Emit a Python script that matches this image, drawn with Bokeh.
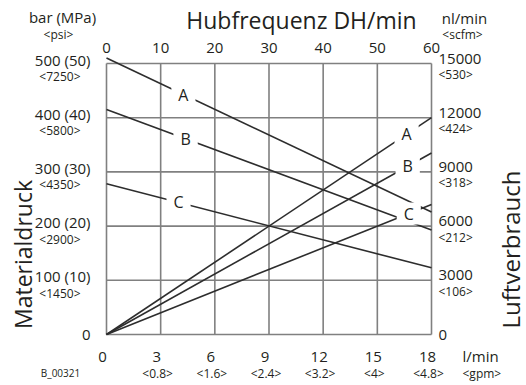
import numpy as np
from bokeh.plotting import figure
from bokeh.models import Range1d, ColumnDataSource
from bokeh.embed import file_html
from bokeh.resources import INLINE
from bokeh.core.properties import value

# ---------------- data ----------------
flow_ticks = [0, 3, 6, 9, 12, 15, 18]                      # l/min (bottom)
flow_labels = ["0", "3", "6", "9", "12", "15", "18"]
flow_sub = ["", "<0.8>", "<1.6>", "<2.4>", "<3.2>", "<4>", "<4.8>"]   # gpm
stroke_ticks = [0, 10, 20, 30, 40, 50, 60]                 # DH/min (top)
stroke_labels = ["0", "10", "20", "30", "40", "50", "60"]
pressure_ticks = [0, 100, 200, 300, 400, 500]              # bar (left)
pressure_labels = ["0", "100 (10)", "200 (20)", "300 (30)", "400 (40)", "500 (50)"]
pressure_sub = ["", "<1450>", "<2900>", "<4350>", "<5800>", "<7250>"]   # psi
air_ticks = [0, 3000, 6000, 9000, 12000, 15000]            # nl/min (right)
air_labels = ["0", "3000", "6000", "9000", "12000", "15000"]
air_sub = ["", "<106>", "<212>", "<318>", "<424>", "<530>"]             # scfm

series = ["A", "B", "C"]
stroke = [0, 60]                       # DH/min
pressure_A = [510, 226]                # bar
pressure_B = [415, 193]
pressure_C = [278, 123]
air_A = [0, 12000]                     # nl/min
air_B = [0, 10050]
air_C = [0, 7200]
pressure_label_at = [14.2, 14.6, 13.3]   # DH/min where the curve letter sits
air_label_at = [55.4, 55.6, 55.8]

TXT = "#231f20"
GRID = "#808080"
LINE = "#2d2d2d"
FONT = "Open Sans"

# ---------------- layout (pixels) ----------------
W, H = 526, 385
BOX_L, BOX_R, BOX_T, BOX_B = 106, 431, 63, 334

flow_max = flow_ticks[-1]
bar_max = pressure_ticks[-1]
hub_per_flow = stroke_ticks[-1] / flow_max
air_per_bar = air_ticks[-1] / bar_max

kx = (BOX_R - BOX_L) / flow_max      # px per l/min
ky = (BOX_B - BOX_T) / bar_max       # px per bar
x0, x1 = -BOX_L / kx, flow_max + (W - BOX_R) / kx
y0, y1 = -(H - BOX_B) / ky, bar_max + BOX_T / ky

p = figure(width=W, height=H, title=None,
           x_range=Range1d(x0, x1), y_range=Range1d(y0, y1),
           x_axis_type=None, y_axis_type=None,
           output_backend="svg", toolbar_location=None, min_border=0)
p.outline_line_color = None
p.background_fill_color = "white"
p.border_fill_color = "white"
p.extra_x_ranges = {"hub": Range1d(x0 * hub_per_flow, x1 * hub_per_flow)}
p.extra_y_ranges = {"air": Range1d(y0 * air_per_bar, y1 * air_per_bar)}

# grid box (from the tick lists)
nx, ny = len(flow_ticks), len(pressure_ticks)
p.segment(x0=flow_ticks, x1=flow_ticks, y0=[pressure_ticks[0]] * nx, y1=[pressure_ticks[-1]] * nx,
          line_color=GRID, line_width=1.6)
p.segment(x0=[flow_ticks[0]] * ny, x1=[flow_ticks[-1]] * ny, y0=pressure_ticks, y1=pressure_ticks,
          line_color=GRID, line_width=1.6)

# curves
pressures = [pressure_A, pressure_B, pressure_C]
airs = [air_A, air_B, air_C]
for pr in pressures:
    p.line(stroke, pr, x_range_name="hub", line_color=LINE, line_width=1.6)
for ar in airs:
    p.line(stroke, ar, x_range_name="hub", y_range_name="air", line_color=LINE, line_width=1.6)

# curve letters with a white gap
pl_src = ColumnDataSource(dict(
    x=pressure_label_at,
    y=[float(np.interp(xx, stroke, pr)) for xx, pr in zip(pressure_label_at, pressures)],
    t=series))
al_src = ColumnDataSource(dict(
    x=air_label_at,
    y=[float(np.interp(xx, stroke, ar)) for xx, ar in zip(air_label_at, airs)],
    t=series))
letter_kw = dict(text="t", text_font=value(FONT), text_font_size="16px", text_color=TXT,
                 text_align="center", text_baseline="middle",
                 background_fill_color="white",
                 padding=dict(left=7, right=7, top=0, bottom=0))
p.text(x="x", y="y", source=pl_src, x_range_name="hub", **letter_kw)
p.text(x="x", y="y", source=al_src, x_range_name="hub", y_range_name="air", **letter_kw)


def texts(xs, ys, labels, size, dx=0, dy=0, align="center", baseline="middle",
          angle=0.0, xr="default", yr="default"):
    """dx: px to the right, dy: px upward (scalar or list)."""
    n = len(labels)
    dys = list(dy) if isinstance(dy, (list, tuple)) else [dy] * n
    keep = [i for i in range(n) if labels[i]]
    src = ColumnDataSource(dict(x=[xs[i] for i in keep], y=[ys[i] for i in keep],
                                t=[labels[i] for i in keep], oy=[-dys[i] for i in keep]))
    p.text(x="x", y="y", text="t", source=src, x_offset=dx, y_offset="oy",
           x_range_name=xr, y_range_name=yr, angle=angle,
           text_font=value(FONT), text_font_size=f"{size}px", text_color=TXT,
           text_align=align, text_baseline=baseline)


# tick labels
texts([flow_ticks[0]] * ny, pressure_ticks, pressure_labels, 15, dx=-16,
      dy=[4 if s else 0 for s in pressure_sub], align="right")
texts([flow_ticks[0]] * ny, pressure_ticks, pressure_sub, 12, dx=-26, dy=-13, align="right")

texts([flow_max] * len(air_ticks), air_ticks, air_labels, 15, dx=7,
      dy=[5 if s else 0 for s in air_sub], align="left", yr="air")
texts([flow_max] * len(air_ticks), air_ticks, air_sub, 12, dx=7, dy=-11, align="left", yr="air")

texts(flow_ticks, [pressure_ticks[0]] * nx, flow_labels, 15, dx=-4, dy=-22)
texts(flow_ticks, [pressure_ticks[0]] * nx, flow_sub, 12, dx=-3, dy=-39)

texts(stroke_ticks, [bar_max] * len(stroke_ticks), stroke_labels, 15, dy=16, xr="hub")

# titles & units
texts([0], [bar_max], ["Hubfrequenz DH/min"], 23, dx=195, dy=44)
texts([0], [bar_max], ["bar (MPa)"], 15, dx=-44, dy=47)
texts([0], [bar_max], ["<psi>"], 12, dx=-48, dy=29)
texts([flow_max], [bar_max], ["nl/min"], 15, dx=33, dy=46)
texts([flow_max], [bar_max], ["<scfm>"], 12, dx=31, dy=29)
texts([flow_max], [0], ["l/min"], 15, dx=31, dy=-21, align="left")
texts([flow_max], [0], ["<gpm>"], 12, dx=31, dy=-39, align="left")
texts([0], [0], ["B_00321"], 10, dx=-46, dy=-38)
texts([0], [0], ["Materialdruck"], 23, dx=-84, dy=80, angle=np.pi / 2)
texts([flow_max], [0], ["Luftverbrauch"], 24, dx=79, dy=85, angle=np.pi / 2)

open("out.html", "w").write(file_html(p, INLINE))
